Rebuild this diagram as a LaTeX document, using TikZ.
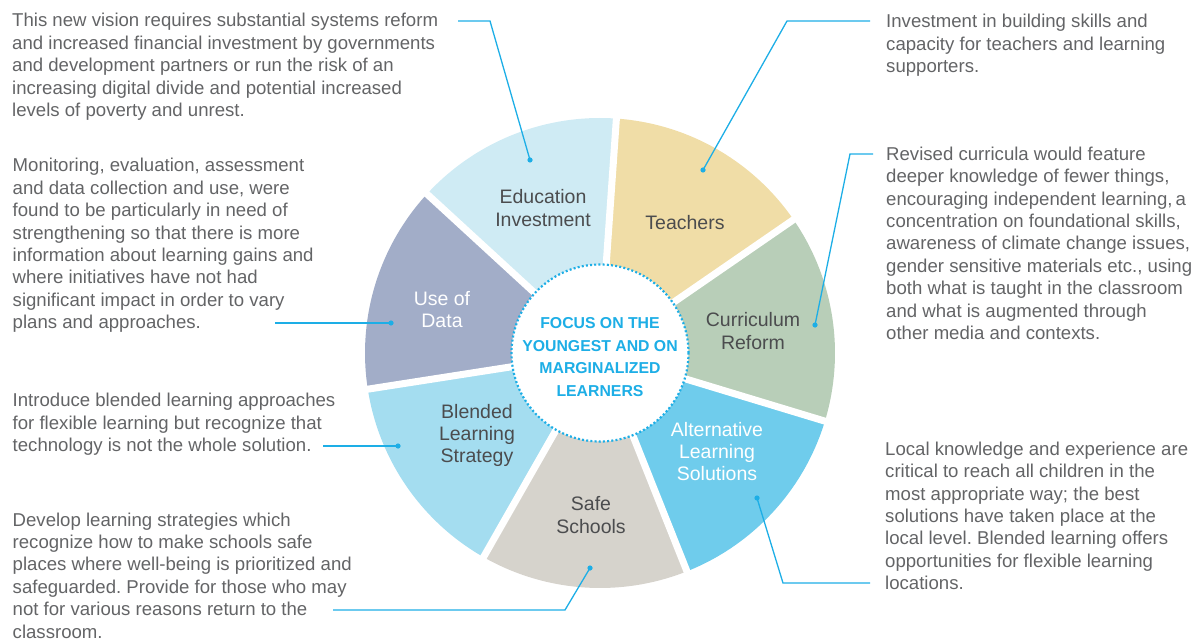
\documentclass[tikz,border=0pt]{standalone}
\usepackage{fontspec}
\setmainfont{Liberation Sans}
\frenchspacing
\definecolor{cEdu}{HTML}{CFEBF4}
\definecolor{cTea}{HTML}{F0DDA7}
\definecolor{cCur}{HTML}{B8CEB8}
\definecolor{cAlt}{HTML}{6FCCEC}
\definecolor{cSafe}{HTML}{D6D3CC}
\definecolor{cBle}{HTML}{A4DDF0}
\definecolor{cUse}{HTML}{A2ADC8}
\definecolor{lcyan}{HTML}{1DAEE6}
\definecolor{bodygray}{HTML}{636466}
\definecolor{labelgray}{HTML}{4B4C4E}
\tikzset{
  bodytext/.style={anchor=north west, inner sep=0pt, align=left, text=bodygray,
    font=\fontsize{18.6}{22.4}\selectfont},
  seglabel/.style={align=center, inner sep=0pt, text=labelgray,
    font=\fontsize{19.5}{22.3}\selectfont},
  seglabelw/.style={seglabel, text=white},
  hubtext/.style={align=center, inner sep=0pt, text=lcyan,
    font=\bfseries\fontsize{15.8}{22.6}\selectfont},
  leader/.style={draw=lcyan, line width=1.3pt},
  leaderdot/.style={fill=lcyan},
}
\begin{document}
\begin{tikzpicture}[x=1pt,y=1pt]
\useasboundingbox (0,0) rectangle (1202,-639);
\coordinate (C) at (600,-353);
% wedges
\foreach \a/\b/\c in {86/34.571/cTea, 34.571/-16.857/cCur, -16.857/-68.286/cAlt,
  -68.286/-119.714/cSafe, -119.714/-171.143/cBle, -171.143/-222.571/cUse,
  137.429/86/cEdu}
  \fill[\c] (C) -- ++(\a:235) arc[start angle=\a, end angle=\b, radius=235] -- cycle;
% gaps
\foreach \t in {86, 34.571, -16.857, -68.286, -119.714, -171.143, 137.429}
  \draw[white, line width=7pt] (C) -- ++(\t:245);
% hub
\node[circle, minimum size=177pt, inner sep=0pt, fill=white, draw=lcyan,
  line width=2.2pt, dash pattern=on 2pt off 2.2pt] (hub) at (C) {};
\node[hubtext] (hubt) at (600,-357) {FOCUS ON THE\\YOUNGEST AND ON\\MARGINALIZED\\LEARNERS};
% segment labels
\node[seglabel] (lEdu) at (543,-208) {Education\\Investment};
\node[seglabel] (lTea) at (685,-223) {Teachers};
\node[seglabel] (lCur) at (753,-331) {Curriculum\\Reform};
\node[seglabelw] (lAlt) at (717,-451.5) {Alternative\\Learning\\Solutions};
\node[seglabel] (lSafe) at (591,-515) {Safe\\Schools};
\node[seglabel] (lBle) at (477,-435.5) {Blended\\Learning\\Strategy};
\node[seglabelw] (lUse) at (442,-309.5) {Use of\\Data};
% body texts
\node[bodytext] (tEdu) at (12,-13.3) {This new vision requires substantial systems reform\\and increased financial investment by governments\\and development partners or run the risk of an\\increasing digital divide and potential increased\\levels of poverty and unrest.};
\node[bodytext] (tUse) at (12.5,-158.3) {Monitoring, evaluation, assessment\\and data collection and use, were\\found to be particularly in need of\\strengthening so that there is more\\information about learning gains and\\where initiatives have not had\\significant impact in order to vary\\plans and approaches.};
\node[bodytext] (tBle) at (12.5,-393.3) {Introduce blended learning approaches\\for flexible learning but recognize that\\technology is not the whole solution.};
\node[bodytext] (tSafe) at (12.5,-512.5) {Develop learning strategies which\\recognize how to make schools safe\\places where well-being is prioritized and\\safeguarded. Provide for those who may\\not for various reasons return to the\\classroom.};
\node[bodytext] (tTea) at (886,-14) {Investment in building skills and\\capacity for teachers and learning\\supporters.};
\node[bodytext] (tCur) at (886,-146.6) {Revised curricula would feature\\deeper knowledge of fewer things,\\encouraging independent learning,\,a\\concentration on foundational skills,\\awareness of climate change issues,\\gender sensitive materials etc., using\\both what is taught in the classroom\\and what is augmented through\\other media and contexts.};
\node[bodytext] (tAlt) at (885,-441.6) {Local knowledge and experience are\\critical to reach all children in the\\most appropriate way; the best\\solutions have taken place at the\\local level. Blended learning offers\\opportunities for flexible learning\\locations.};
% leader coordinates
\coordinate (dEdu) at (530,-160); \coordinate (kEdu) at (490,-21); \coordinate (eEdu) at (458,-21);
\coordinate (dTea) at (703,-170); \coordinate (kTea) at (787,-21); \coordinate (eTea) at (870,-21);
\coordinate (dCur) at (815,-325); \coordinate (kCur) at (850,-154); \coordinate (eCur) at (873,-154);
\coordinate (dAlt) at (757,-498); \coordinate (kAlt) at (783,-583); \coordinate (eAlt) at (870,-583);
\coordinate (dSafe) at (590,-568); \coordinate (kSafe) at (565,-610); \coordinate (eSafe) at (333,-610);
\coordinate (dBle) at (398,-446); \coordinate (eBle) at (323,-446);
\coordinate (dUse) at (391,-323); \coordinate (eUse) at (275,-323);
% leaders
\draw[leader] (dEdu) -- (kEdu) -- (eEdu);
\draw[leader] (dTea) -- (kTea) -- (eTea);
\draw[leader] (dCur) -- (kCur) -- (eCur);
\draw[leader] (dAlt) -- (kAlt) -- (eAlt);
\draw[leader] (dSafe) -- (kSafe) -- (eSafe);
\draw[leader] (dBle) -- (eBle);
\draw[leader] (dUse) -- (eUse);
\foreach \d in {dEdu,dTea,dCur,dAlt,dSafe,dBle,dUse}
  \fill[leaderdot] (\d) circle[radius=2.6pt];
\end{tikzpicture}
\end{document}
